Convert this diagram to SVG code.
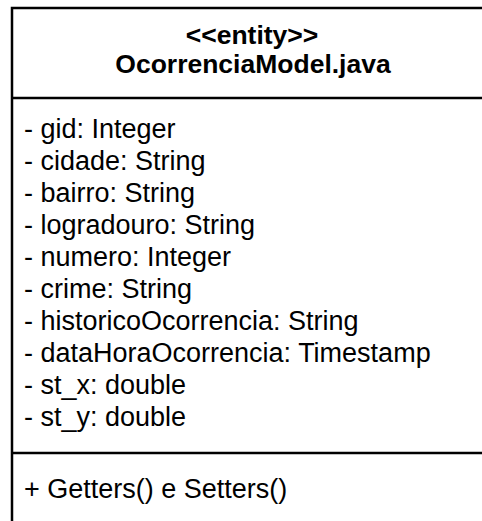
<svg xmlns="http://www.w3.org/2000/svg" width="482" height="521" viewBox="0 0 482 521">
  <style>
    .frame { fill: #ffffff; stroke: #000000; stroke-width: 2.5; }
    .divider { stroke: #000000; stroke-width: 2.5; fill: none; }
    .title { font-family: "Liberation Sans", Arial, sans-serif; font-size: 26.5px; font-weight: bold; fill: #000000; text-anchor: middle; }
    .member { font-family: "Liberation Sans", Arial, sans-serif; font-size: 27px; fill: #000000; }
  </style>
  <rect width="482" height="521" fill="#ffffff"/>
  <!-- UML class: OcorrenciaModel entity -->
  <g id="ocorrencia-model">
    <rect class="frame" x="12" y="8" width="480" height="530"/>
    <text class="title" x="252" y="44">&lt;&lt;entity&gt;&gt;</text>
    <text class="title" x="253" y="73">OcorrenciaModel.java</text>
    <line class="divider" x1="12" y1="98" x2="492" y2="98"/>
    <g class="member">
      <text x="24" y="138">- gid: Integer</text>
      <text x="24" y="170">- cidade: String</text>
      <text x="24" y="202">- bairro: String</text>
      <text x="24" y="234">- logradouro: String</text>
      <text x="24" y="266">- numero: Integer</text>
      <text x="24" y="298">- crime: String</text>
      <text x="24" y="330">- historicoOcorrencia: String</text>
      <text x="24" y="362">- dataHoraOcorrencia: Timestamp</text>
      <text x="24" y="394">- st_x: double</text>
      <text x="24" y="426">- st_y: double</text>
    </g>
    <line class="divider" x1="12" y1="453" x2="492" y2="453"/>
    <text class="member" x="24" y="498">+ Getters() e Setters()</text>
  </g>
  <g id="connectors"/>
</svg>
